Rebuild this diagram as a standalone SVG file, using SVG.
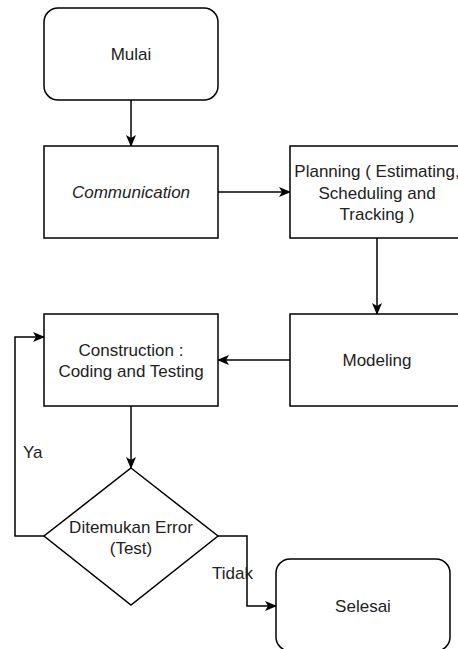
<svg xmlns="http://www.w3.org/2000/svg" width="458" height="649" viewBox="0 0 458 649">
  <defs>
    <style>
      .box { fill: #ffffff; stroke: #000000; stroke-width: 1.5; }
      .lbl { font-family: "Liberation Sans", Arial, Helvetica, sans-serif; font-size: 17px; fill: #222222; text-anchor: middle; dominant-baseline: central; }
      .edge { fill: none; stroke: #000000; stroke-width: 1.5; marker-end: url(#arrow); }
      .elbl { font-family: "Liberation Sans", Arial, Helvetica, sans-serif; font-size: 17px; fill: #222222; dominant-baseline: central; }
    </style>
    <marker id="arrow" markerUnits="userSpaceOnUse" viewBox="0 0 12 10" refX="11" refY="5" markerWidth="12" markerHeight="10" orient="auto">
      <path d="M0,0 L12,5 L0,10 L3,5 Z" fill="#000000"/>
    </marker>
  </defs>
  <rect width="458" height="649" fill="#ffffff"/>

  <g id="connectors">
    <path class="edge" d="M131,100 L131,146"/>
    <path class="edge" d="M218,192 L290,192"/>
    <path class="edge" d="M377,238 L377,314"/>
    <path class="edge" d="M290,360 L218,360"/>
    <path class="edge" d="M131,406 L131,468"/>
    <path class="edge" d="M44,536 L15,536 L15,337 L44,337"/>
    <path class="edge" d="M218,536 L247,536 L247,606 L276,606"/>
    <text class="elbl" x="23" y="452">Ya</text>
    <text class="elbl" x="212" y="573">Tidak</text>
  </g>

  <g id="mulai">
    <rect class="box" x="44" y="8" width="174" height="92" rx="14" ry="14"/>
    <text class="lbl" x="131" y="54">Mulai</text>
  </g>

  <g id="communication">
    <rect class="box" x="44" y="146" width="174" height="92"/>
    <text class="lbl" x="131" y="192" font-style="italic">Communication</text>
  </g>

  <g id="planning">
    <rect class="box" x="290" y="146" width="174" height="92"/>
    <text class="lbl" x="377" y="171.5">Planning ( Estimating,</text>
    <text class="lbl" x="377" y="193">Scheduling and</text>
    <text class="lbl" x="377" y="214.5">Tracking )</text>
  </g>

  <g id="modeling">
    <rect class="box" x="290" y="314" width="174" height="92"/>
    <text class="lbl" x="377" y="360">Modeling</text>
  </g>

  <g id="construction">
    <rect class="box" x="44" y="314" width="174" height="92"/>
    <text class="lbl" x="131" y="350">Construction :</text>
    <text class="lbl" x="131" y="371.5">Coding and Testing</text>
  </g>

  <g id="decision">
    <polygon class="box" points="131,468 218,536 131,605 44,536"/>
    <text class="lbl" x="131" y="527">Ditemukan Error</text>
    <text class="lbl" x="131" y="548">(Test)</text>
  </g>

  <g id="selesai">
    <rect class="box" x="276" y="559" width="174" height="92" rx="14" ry="14"/>
    <text class="lbl" x="363" y="606">Selesai</text>
  </g>
</svg>
